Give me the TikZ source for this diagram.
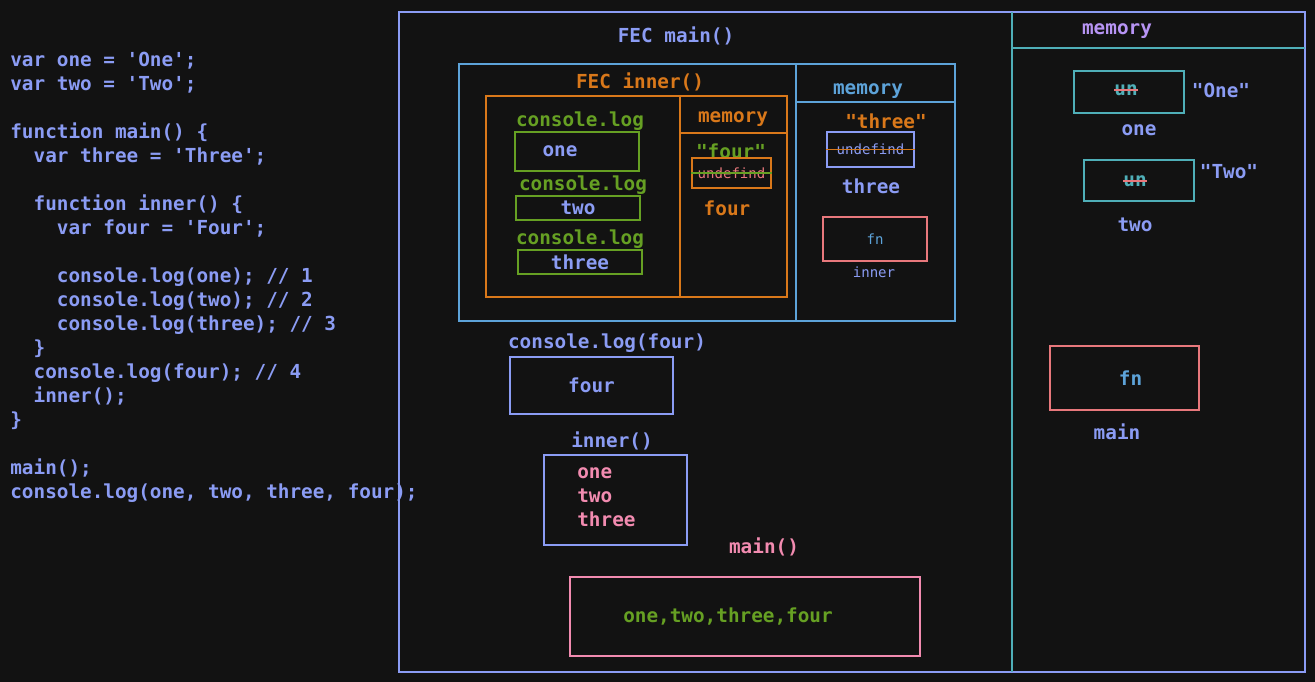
\documentclass[tikz,border=0pt]{standalone}
\usepackage{fontspec}
\setmonofont{DejaVu Sans Mono}
\usetikzlibrary{positioning}
\definecolor{bgdark}{HTML}{121212}
\definecolor{codeblue}{HTML}{8B9CF4}
\definecolor{fecblue}{HTML}{5DA3D9}
\definecolor{memteal}{HTML}{4FAFB8}
\definecolor{fecorange}{HTML}{D9781A}
\definecolor{loggreen}{HTML}{66A023}
\definecolor{outpink}{HTML}{F28BB0}
\definecolor{fncoral}{HTML}{E8787C}
\definecolor{mempurple}{HTML}{B794F4}
\newcommand{\indt}{\phantom{xx}}

\begin{document}
\begin{tikzpicture}[
        x=0.02cm, y=-0.02cm,
        txt/.style={font=\ttfamily\bfseries\fontsize{11}{13.66}\selectfont, inner sep=0pt},
        small/.style={font=\ttfamily\fontsize{8}{9.6}\selectfont, inner sep=0pt},
        frame/.style={line width=0.8pt},
        valbox/.style={draw, line width=0.8pt, inner sep=0pt, font=\ttfamily\bfseries\fontsize{11}{13.66}\selectfont},
        strike/.style={line width=1pt}
    ]
        % Background and page size
        \fill[bgdark] (0,0) rectangle (1315,682);
        \useasboundingbox (0,0) rectangle (1315,682);

        % Source code
        \node[txt, codeblue, align=left, anchor=north west] (code) at (10,52) {%
            var one = 'One';\\
            var two = 'Two';\\
            \mbox{}\\
            function main() \{\\
            \indt var three = 'Three';\\
            \mbox{}\\
            \indt function inner() \{\\
            \indt\indt var four = 'Four';\\
            \mbox{}\\
            \indt\indt console.log(one); // 1\\
            \indt\indt console.log(two); // 2\\
            \indt\indt console.log(three); // 3\\
            \indt \}\\
            \indt console.log(four); // 4\\
            \indt inner();\\
            \}\\
            \mbox{}\\
            main();\\
            console.log(one, two, three, four);};

        % FEC main frame with global memory column
        \draw[frame, codeblue] (399,12) rectangle (1305,672);
        \draw[frame, memteal] (1012,12) -- (1012,672);
        \draw[frame, memteal] (1012,48) -- (1305,48);
        \node[txt, codeblue] (fecmain) at (676,36) {FEC main()};
        \node[txt, mempurple] (gmem) at (1117,31) {memory};

        % FEC inner frame with main() memory
        \draw[frame, fecblue] (459,64) rectangle (955,321);
        \draw[frame, fecblue] (796,64) -- (796,322);
        \draw[frame, fecblue] (796,102) -- (955,102);
        \node[txt, fecorange] (fecinner) at (640,82) {FEC inner()};
        \node[txt, fecblue] (mainmem) at (868,91) {memory};

        % inner() call frame
        \draw[frame, fecorange] (486,96) rectangle (787,297);
        \draw[frame, fecorange] (680,96) -- (680,297);
        \draw[frame, fecorange] (680,133) -- (787,133);
        \node[txt, fecorange] (innermem) at (733,119) {memory};

        % console.log calls inside inner()
        \node[txt, loggreen] (log1) at (580,121) {console.log};
        \node[valbox, loggreen, text=codeblue, minimum width=2.48cm, minimum height=0.78cm] (out1) at (577,151.5) {one\hspace*{0.68cm}};
        \node[txt, loggreen] (log2) at (583,185) {console.log};
        \node[valbox, loggreen, text=codeblue, minimum width=2.48cm, minimum height=0.48cm] (out2) at (578,208) {two};
        \node[txt, loggreen] (log3) at (580,239) {console.log};
        \node[valbox, loggreen, text=codeblue, minimum width=2.48cm, minimum height=0.48cm] (out3) at (580,262) {three};

        % inner() memory
        \node[txt, loggreen] (fourval) at (731,151) {"four"};
        \node[valbox, fecorange, small, text=fncoral, minimum width=1.58cm, minimum height=0.6cm] (fourbox) at (731.5,173) {undefind};
        \draw[strike, loggreen] (fourbox.west) -- (fourbox.east);
        \node[txt, fecorange] (fourname) at (727,208) {four};

        % main() memory
        \node[txt, fecorange] (threeval) at (886,121) {"three"};
        \node[valbox, codeblue, small, minimum width=1.74cm, minimum height=0.7cm] (threebox) at (870.5,149.5) {undefind};
        \draw[strike, fecorange] (threebox.west) -- (threebox.east);
        \node[txt, codeblue] (threename) at (871,186) {three};
        \node[valbox, fncoral, small, text=fecblue, minimum width=2.08cm, minimum height=0.88cm] (innerfn) at (875,239) {fn};
        \node[small, codeblue] (innername) at (874,272) {inner};

        % console.log(four) inside main()
        \node[txt, codeblue] (log4) at (607,343) {console.log(four)};
        \node[valbox, codeblue, minimum width=3.26cm, minimum height=1.14cm] (out4) at (591.5,385.5) {four};

        % inner() scope lookup
        \node[txt, codeblue] (innercall) at (612,441) {inner()};
        \node[valbox, codeblue, minimum width=2.86cm, minimum height=1.8cm] (innerbox) at (615.5,500) {};
        \node[txt, outpink, align=left, anchor=west] (innerlist) at (577,497) {one\\two\\three};

        % main() result
        \node[txt, outpink] (maincall) at (764,547) {main()};
        \node[valbox, outpink, text=loggreen, minimum width=7.0cm, minimum height=1.58cm] (mainbox) at (745,616.5) {one,two,three,four\hspace*{0.68cm}};

        % Global memory
        \node[valbox, memteal, minimum width=2.2cm, minimum height=0.84cm] (onebox) at (1129,92) {};
        \node[txt, memteal] (oneun) at (1126,90) {un};
        \draw[strike, fncoral] (oneun.west) -- (oneun.east);
        \node[txt, codeblue] (oneval) at (1221,90) {"One"};
        \node[txt, codeblue] (onename) at (1139,130) {one};

        \node[valbox, memteal, minimum width=2.2cm, minimum height=0.82cm] (twobox) at (1139,180.5) {};
        \node[txt, memteal] (twoun) at (1135,181) {un};
        \draw[strike, fncoral] (twoun.west) -- (twoun.east);
        \node[txt, codeblue] (twoval) at (1229,172) {"Two"};
        \node[txt, codeblue] (twoname) at (1135,225) {two};

        \node[valbox, fncoral, text=fecblue, minimum width=2.98cm, minimum height=1.28cm] (mainfn) at (1124.5,378) {\hspace*{0.24cm}fn};
        \node[txt, codeblue] (mainname) at (1117,432) {main};
    \end{tikzpicture}
\end{document}
